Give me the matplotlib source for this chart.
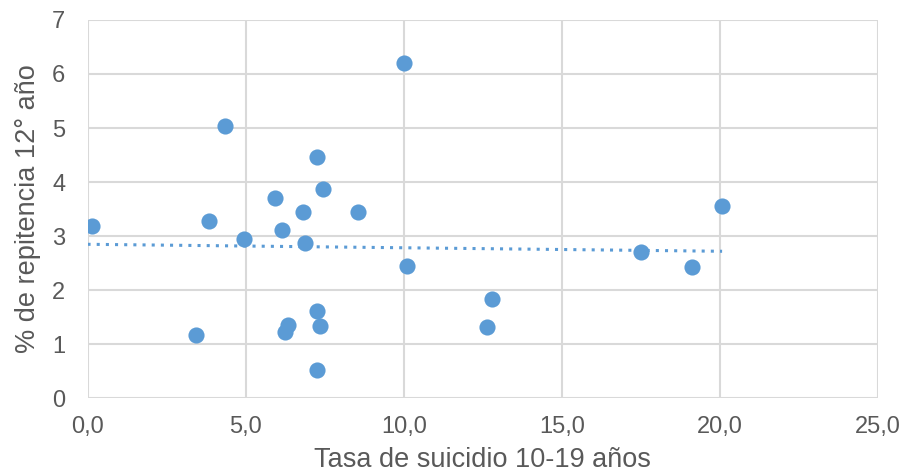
import numpy as np
import matplotlib
matplotlib.use("Agg")
import matplotlib.pyplot as plt

x_vals = [0.13, 3.84, 4.35, 10.02, 7.27, 7.44, 5.94, 6.83, 8.57, 6.15,
          4.96, 6.89, 10.12, 3.42, 7.27, 6.34, 6.26, 7.36, 7.27,
          20.07, 17.49, 19.12, 12.79, 12.63]
y_vals = [3.18, 3.28, 5.04, 6.20, 4.47, 3.87, 3.70, 3.45, 3.45, 3.11,
          2.94, 2.88, 2.45, 1.17, 1.62, 1.36, 1.23, 1.33, 0.52,
          3.56, 2.71, 2.42, 1.83, 1.31]
x_ticks = [0, 5, 10, 15, 20, 25]
x_tick_labels = ["0,0", "5,0", "10,0", "15,0", "20,0", "25,0"]
y_ticks = [0, 1, 2, 3, 4, 5, 6, 7]
x_label = "Tasa de suicidio 10-19 años"
y_label = "% de repitencia 12° año"

plt.rcParams['font.family'] = ['Liberation Sans', 'DejaVu Sans']
color = "#5B9BD5"
text_color = "#595959"

fig = plt.figure(figsize=(9.07, 4.75), dpi=100)
ax = fig.add_axes([0.0965, 0.1615, 0.8715, 0.7965])

ax.scatter(x_vals, y_vals, s=135, color=color, zorder=3, linewidths=0)

xs = np.array(x_vals)
ys = np.array(y_vals)
m, b = np.polyfit(xs, ys, 1)
xl = np.array([0.0, xs.max()])
ax.plot(xl, m * xl + b, linestyle=(0, (1, 2)), color=color, lw=2.2, zorder=2)

ax.set_xlim(0, 25)
ax.set_ylim(0, 7)
ax.set_xticks(x_ticks)
ax.set_xticklabels(x_tick_labels)
ax.set_yticks(y_ticks)
ax.grid(True, color="#D9D9D9", lw=1.5, zorder=0)
for s in ax.spines.values():
    s.set_visible(False)
ax.tick_params(length=0, labelsize=17, colors=text_color)
ax.tick_params(axis='x', pad=13)
ax.tick_params(axis='y', pad=16)
ax.set_xlabel(x_label, fontsize=19.5, color=text_color, labelpad=6)
ax.set_ylabel(y_label, fontsize=19.5, color=text_color, labelpad=8)

fig.savefig("out.png", dpi=100)
